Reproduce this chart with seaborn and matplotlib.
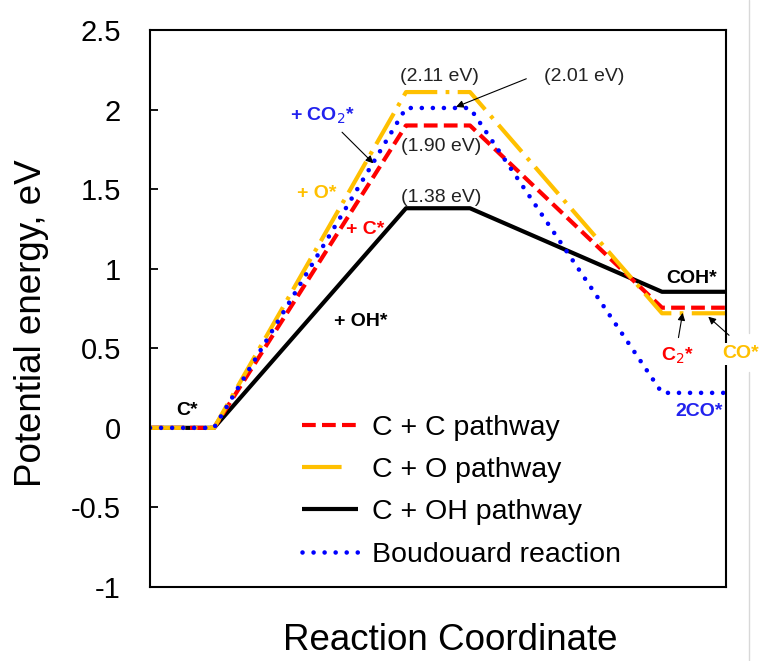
import matplotlib
matplotlib.use("Agg")
import matplotlib.pyplot as plt
import seaborn as sns
import pandas as pd
from matplotlib.lines import Line2D

# ---- data ----
x_pos = [0, 1, 4, 5, 8, 9]
cc_vals = [0, 0, 1.90, 1.90, 0.755, 0.755]
co_vals = [0, 0, 2.11, 2.11, 0.72, 0.72]
coh_vals = [0, 0, 1.38, 1.38, 0.855, 0.855]
boud_vals = [0, 0, 2.01, 2.01, 0.22, 0.22]
labels = ["C + C pathway", "C + O pathway", "C + OH pathway", "Boudouard reaction"]
colors = ["#FF0000", "#FFC000", "#000000", "#0000FF"]
yticks = [-1, -0.5, 0, 0.5, 1, 1.5, 2, 2.5]
ytick_labels = ["-1", "-0.5", "0", "0.5", "1", "1.5", "2", "2.5"]

sns.set_theme(style="white")
plt.rcParams["font.family"] = ["Liberation Sans", "DejaVu Sans"]
plt.rcParams["text.color"] = "black"
plt.rcParams["axes.labelcolor"] = "black"

fig = plt.figure(figsize=(7.59, 6.61), dpi=100)
ax = fig.add_axes([150/759, 1-587/661, 576/759, 557/661])

lw = 3.0
styles = [
    dict(linestyle=(0, (3.3, 1.5)), dash_capstyle="butt", lw=lw),
    dict(linestyle=(0, (8.5, 2.0, 0.9, 2.0)), dash_capstyle="butt", lw=lw),
    dict(linestyle="-", solid_capstyle="butt", lw=lw),
    dict(linestyle=(0, (0.01, 2.4)), dash_capstyle="round", lw=lw * 1.1),
]
series = [cc_vals, co_vals, coh_vals, boud_vals]
order = [2, 0, 1, 3]
for i in order:
    df = pd.DataFrame({"x": x_pos, "y": series[i]})
    sns.lineplot(data=df, x="x", y="y", ax=ax, color=colors[i],
                 estimator=None, sort=False, **styles[i])

ax.set_xlim(0, 9)
ax.set_ylim(-1, 2.5)
ax.set_xticks([])
ax.set_yticks(yticks)
ax.set_yticklabels(ytick_labels)
ax.tick_params(axis="y", direction="in", length=6, width=1.3, left=True,
               labelsize=21, pad=21, colors="black")
ax.set_xlabel("Reaction Coordinate", fontsize=26.5)
ax.xaxis.set_label_coords((450 - 150) / 576, (587 - 641) / 557)
ax.xaxis.label.set_va("center")
ax.set_ylabel("Potential energy, eV", fontsize=26.5)
ax.yaxis.set_label_coords((31 - 150) / 576, (587 - 323) / 557)
ax.yaxis.label.set_va("center")
for s in ax.spines.values():
    s.set_color("black")
    s.set_linewidth(1.5)

# legend
leg_styles = [dict(styles[0]), dict(styles[1]), dict(styles[2]), dict(styles[3])]
leg_styles[1]["linestyle"] = (0, (9.5, 20))
handles = [Line2D([0], [0], color=colors[i], **leg_styles[i]) for i in range(4)]
leg = ax.legend(handles, labels, loc="upper left", bbox_to_anchor=(0.264, 0.309),
                frameon=False, fontsize=20.5, handlelength=1.95, handletextpad=0.5,
                labelspacing=0.57, borderpad=0, borderaxespad=0)
for t in leg.get_texts():
    t.set_color("black")

bold = dict(fontsize=14, fontweight="bold", ha="center", va="center")
norm = dict(fontsize=14, ha="center", va="center", color="#222222")
arrow = dict(arrowstyle="-|>", color="black", lw=0.8, mutation_scale=11)
ax.text(0.58, 0.11, "C*", color="black", **bold)
ax.text(3.30, 0.67, "+ OH*", color="black", **bold)
ax.text(3.36, 1.245, "+ C*", color="#FF0000", **bold)
ax.text(2.61, 1.47, "+ O*", color="#FFC000", **bold)
ax.text(2.69, 1.96, "+ CO$_2$*", color="#2222EE", **bold)
ax.annotate("", xy=(3.52, 1.65), xytext=(2.97, 1.87), arrowprops=arrow)
ax.text(4.52, 2.21, "(2.11 eV)", **norm)
ax.text(6.78, 2.21, "(2.01 eV)", **norm)
ax.annotate("", xy=(4.74, 2.01), xytext=(5.92, 2.20), arrowprops=arrow)
ax.text(4.55, 1.77, "(1.90 eV)", **norm)
ax.text(4.55, 1.45, "(1.38 eV)", **norm)
ax.text(8.47, 0.94, "COH*", color="black", **bold)
ax.text(8.25, 0.45, "C$_2$*", color="#FF0000", **bold)
ax.annotate("", xy=(8.33, 0.74), xytext=(8.25, 0.55), arrowprops=arrow)
ax.text(9.23, 0.465, "CO*", color="#FFC000", clip_on=False, zorder=10,
        bbox=dict(facecolor="white", edgecolor="none", pad=2), **bold)
ax.annotate("", xy=(8.69, 0.71), xytext=(9.08, 0.57), arrowprops=arrow)
ax.text(8.58, 0.105, "2CO*", color="#2222EE", **bold)

# faint outer border artifact
fig.add_artist(Line2D([749/759, 749/759], [1-0/661, 1-333/661], color="#d8d8d8", lw=1))
fig.add_artist(Line2D([749/759, 749/759], [1-372/661, 1-661/661], color="#d8d8d8", lw=1))

fig.savefig("out.png", dpi=100)
